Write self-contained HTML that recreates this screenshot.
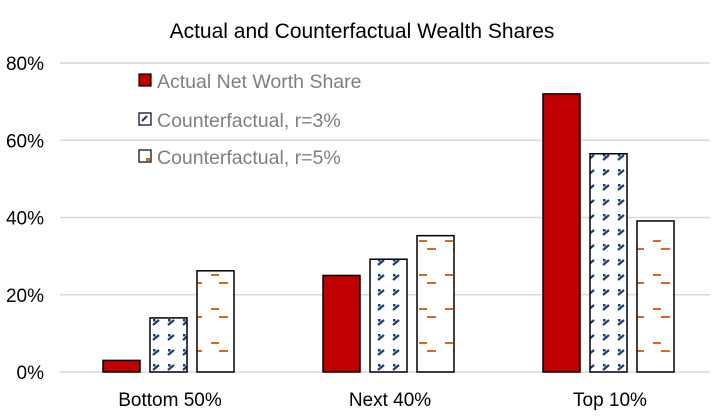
<!DOCTYPE html>
<html><head><meta charset="utf-8"><style>
body{margin:0;background:#fff;}
svg{display:block;font-family:"Liberation Sans",sans-serif;}
</style></head><body>
<svg id="chart" width="721" height="417">
<defs>
<pattern id="p3" patternUnits="userSpaceOnUse" width="15" height="15" x="0" y="0">
<rect width="15" height="15" fill="#fff"/>
<path d="M3 10 L9 5" stroke="#1f3a7a" stroke-width="2.2"/><rect x="3" y="4" width="2.5" height="2.5" fill="#1f3a7a"/>
</pattern>
<pattern id="p3l" patternUnits="userSpaceOnUse" width="12" height="12" x="139" y="113">
<rect width="12" height="12" fill="#fff"/>
<path d="M3 8 L8 3" stroke="#1f3a7a" stroke-width="2.2"/>
</pattern>
<pattern id="p5" patternUnits="userSpaceOnUse" width="26" height="34" x="0" y="0">
<rect width="26" height="34" fill="#fff"/>
<rect x="3" y="2" width="8" height="2" fill="#d86a1f"/>
<rect x="11" y="10" width="9" height="2" fill="#d86a1f"/>
</pattern>
<pattern id="p5l" patternUnits="userSpaceOnUse" width="12" height="12" x="139" y="150">
<rect width="12" height="12" fill="#fff"/>
<rect x="7" y="8" width="4" height="3" fill="#d86a1f"/>
</pattern>
</defs>
<text x="362" y="38" text-anchor="middle" font-size="21" fill="#000">Actual and Counterfactual Wealth Shares</text>
<g id="grid"></g><g id="bars"></g><g id="xlabels"></g>
<g>
<rect x="139" y="74" width="12" height="12" fill="#c00000" stroke="#000" stroke-width="1.2"/>
<text x="157" y="88" font-size="19.5" fill="#7f7f7f">Actual Net Worth Share</text>
<rect x="139" y="113" width="12" height="12" fill="url(#p3l)" stroke="#000" stroke-width="1.2"/>
<text x="157" y="127" font-size="19.5" fill="#7f7f7f">Counterfactual, r=3%</text>
<rect x="139" y="150" width="12" height="12" fill="url(#p5l)" stroke="#000" stroke-width="1.2"/>
<text x="157" y="164" font-size="19.5" fill="#7f7f7f">Counterfactual, r=5%</text>
</g>
</svg>
<script>
const categories=["Bottom 50%","Next 40%","Top 10%"];
const actual=[3,25,72];
const r3=[14,29.2,56.5];
const r5=[26.2,35.3,39.1];
const yTicks=[0,20,40,60,80];
const ns="http://www.w3.org/2000/svg";
const y=v=>372-v*(309/80);
const xc=i=>170+i*220;
function mk(tag,attrs,parent){const e=document.createElementNS(ns,tag);for(const k in attrs)e.setAttribute(k,attrs[k]);document.getElementById(parent).appendChild(e);return e;}
yTicks.forEach(t=>{
 const l=mk('line',{x1:60,x2:710,y1:y(t),y2:y(t),stroke:'#d9d9d9','stroke-width':1.5},'grid');
 
 
 const tx=mk('text',{x:44,y:y(t)+7,'text-anchor':'end','font-size':19,fill:'#000'},'grid');
 tx.textContent=t+'%';
 
 
});
const series=[[actual,'#c00000','actual'],[r3,'url(#p3)','r3'],[r5,'url(#p5)','r5']];
categories.forEach((c,i)=>{
 series.forEach((s,j)=>{
  const x0=xc(i)-67+j*47;const v=s[0][i];
  const r=mk('rect',{x:x0,y:y(v),width:37,height:y(0)-y(v),fill:s[1],stroke:'#000','stroke-width':1.5},'bars');
  
  
 });
 const t=mk('text',{x:xc(i),y:406,'text-anchor':'middle','font-size':19,fill:'#000'},'xlabels');
 t.textContent=c;
 
 
});
</script>
</body></html>
